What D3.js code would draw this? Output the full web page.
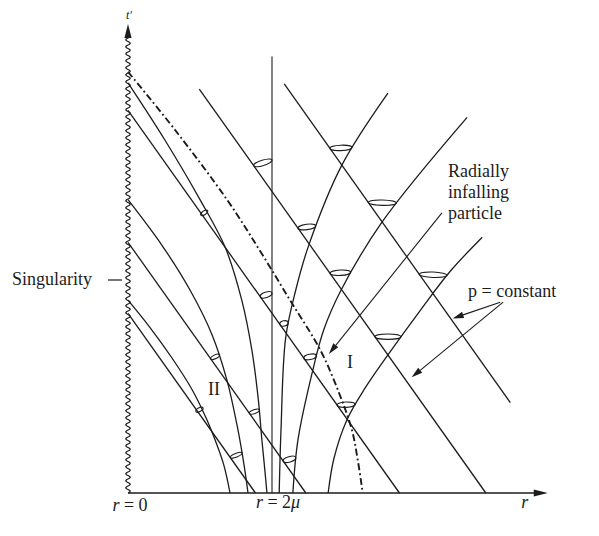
<!DOCTYPE html>
<html>
<head>
<meta charset="utf-8">
<script src="https://cdn.jsdelivr.net/npm/d3@7"></script>
<style>
  body { margin: 0; background: #fff; }
  svg { display: block; }
  text { font-family: 'Liberation Serif', 'DejaVu Serif', serif; fill: #1c1c1c; }
</style>
</head>
<body>
<div data-js-graph></div>
<script>
// r and t' in units of mu (r = 2 is the horizon)

// ingoing null lines (p = constant): t' + r = c
const ingoingC = [1.77, 2.47, 3.77, 4.97, 6.2];
const ingoingRStart = [0, 0, 0, 0.99, 2.17];
const ingoingREnd = [1.77, 2.47, 3.77, 4.97, 5.31];

// outgoing rays, [r, t']
const rayII1 = [[0, 4.04], [0.51, 3.48], [1.0, 2.89], [1.35, 2.42], [1.58, 1.90], [1.72, 1.41], [1.81, 0.92], [1.86, 0.52], [1.90, 0.23], [1.93, 0]];
const rayII2 = [[0, 2.89], [0.472, 2.44], [0.861, 2.0], [1.167, 1.56], [1.375, 1.11], [1.514, 0.67], [1.611, 0.28], [1.667, 0]];
const rayII3 = [[0, 1.90], [0.306, 1.63], [0.611, 1.33], [0.889, 1.02], [1.097, 0.72], [1.222, 0.50], [1.333, 0.27], [1.417, 0]];
const rayI1 = [[2.10, 0], [2.125, 0.62], [2.19, 1.53], [2.33, 2.0], [2.51, 2.44], [2.97, 3.23], [3.61, 3.94]];
const rayI2 = [[2.29, 0], [2.36, 0.52], [2.56, 1.19], [2.72, 1.61], [2.96, 2.0], [3.53, 2.67], [4.71, 3.70]];
const rayI3 = [[2.78, 0], [2.86, 0.34], [3.04, 0.72], [3.29, 1.03], [3.60, 1.35], [4.06, 1.80], [4.47, 2.18], [4.92, 2.52]];
const horizon = [[2, 0], [2, 4.30]];

// radially infalling particle
const particle = [[0, 4.15], [0.65, 3.58], [1.375, 2.89], [1.83, 2.39], [2.25, 1.90], [2.67, 1.41], [2.94, 0.97], [3.11, 0.62], [3.19, 0.33], [3.26, 0]];

// light cones: [ingoing line index, outgoing ray, t' of the rim]
const cones = [
  [3, 'H', 3.25], [4, 'I1', 3.40], [4, 'I2', 2.86], [3, 'I1', 2.62], [3, 'I2', 2.17],
  [4, 'I3', 2.15], [3, 'I3', 1.54], [2, 'H', 1.95], [2, 'I1', 1.67], [2, 'I2', 1.34],
  [2, 'I3', 0.87], [1, 'I2', 0.33],
  [2, 'II1', 2.76], [1, 'II2', 1.34], [0, 'II3', 0.82], [1, 'II1', 0.80], [0, 'II2', 0.37],
];

// annotation arrows [r1, t1, r2, t2]
const arrows = [[4.36, 2.76, 2.79, 1.37], [5.17, 1.88, 4.51, 1.72], [5.21, 1.88, 3.94, 1.14]];

const SETTING = {
  width: 599,
  height: 536,
  ink: '#1c1c1c',
  rAxisEnd: 5.83,
  tAxisEnd: 4.62,
};

const svg = d3.select('[data-js-graph]').append('svg')
  .attr('width', SETTING.width)
  .attr('height', SETTING.height);

const x = d3.scaleLinear().domain([0, 6]).range([128, 560]);
const y = d3.scaleLinear().domain([0, 4.7]).range([493, 493 - 4.7 * 101.5]);

const line = d3.line()
  .x((d) => x(d[0]))
  .y((d) => y(d[1]))
  .curve(d3.curveCatmullRom.alpha(0.5));

const ink = SETTING.ink;

// horizontal axis
svg.append('line')
  .attr('x1', x(0)).attr('y1', y(0))
  .attr('x2', x(SETTING.rAxisEnd) - 8).attr('y2', y(0))
  .attr('stroke', ink).attr('stroke-width', 1.4);
svg.append('path')
  .attr('d', `M${x(SETTING.rAxisEnd)},${y(0)} l-14,-3.6 l0,7.2 z`)
  .attr('fill', ink);

// wavy singularity at r = 0
const wave = d3.range(y(0), y(SETTING.tAxisEnd) + 13, -0.5)
  .map((py) => [x(0) + 2.2 * Math.sin(((y(0) - py) / 7) * 2 * Math.PI), py]);
svg.append('path')
  .attr('d', d3.line()(wave))
  .attr('fill', 'none').attr('stroke', ink).attr('stroke-width', 1.2);
svg.append('path')
  .attr('d', `M${x(0)},${y(SETTING.tAxisEnd)} l-3.6,14 l7.2,0 z`)
  .attr('fill', ink);

// ingoing lines
svg.append('g')
  .selectAll('line')
  .data(ingoingC)
  .join('line')
  .attr('x1', (c, i) => x(ingoingRStart[i]))
  .attr('y1', (c, i) => y(c - ingoingRStart[i]))
  .attr('x2', (c, i) => x(ingoingREnd[i]))
  .attr('y2', (c, i) => y(c - ingoingREnd[i]))
  .attr('stroke', ink).attr('stroke-width', 1.3);

// outgoing rays
const rays = { II1: rayII1, II2: rayII2, II3: rayII3, I1: rayI1, I2: rayI2, I3: rayI3, H: horizon };
const samples = {};
Object.keys(rays).forEach((key) => {
  const path = svg.append('path')
    .attr('d', line(rays[key]))
    .attr('fill', 'none')
    .attr('stroke', ink)
    .attr('stroke-width', key === 'H' ? 1.1 : 1.3);
  const node = path.node();
  const len = node.getTotalLength();
  samples[key] = d3.range(0, len, 0.5).concat([len]).map((l) => node.getPointAtLength(l));
});

// particle
svg.append('path')
  .attr('d', line(particle))
  .attr('fill', 'none')
  .attr('stroke', ink)
  .attr('stroke-width', 1.9)
  .attr('stroke-dasharray', '7,3,1.8,3');

// light cones
const norm = (v) => { const l = Math.hypot(v[0], v[1]); return [v[0] / l, v[1] / l]; };
const cross = (a, b) => a[0] * b[1] - a[1] * b[0];
const hit = (m, d, a, u) => {
  const s = cross([a[0] - m[0], a[1] - m[1]], u) / cross(d, u);
  return [m[0] + s * d[0], m[1] + s * d[1]];
};

function rayAt(pts, py) {
  for (let i = 0; i < pts.length - 1; i += 1) {
    const a = pts[i];
    const b = pts[i + 1];
    if ((a.y - py) * (b.y - py) <= 0 && a.y !== b.y) {
      const f = (py - a.y) / (b.y - a.y);
      const p = pts[Math.max(0, i - 4)];
      const q = pts[Math.min(pts.length - 1, i + 5)];
      const up = p.y < q.y ? [p.x - q.x, p.y - q.y] : [q.x - p.x, q.y - p.y];
      return { pt: [a.x + f * (b.x - a.x), py], dir: norm(up) };
    }
  }
  return null;
}

const coneG = svg.append('g');
cones.forEach(([li, key, t]) => {
  const c = ingoingC[li];
  const A = [x(c - t), y(t)];
  const u1 = norm([x(c - t - 1) - x(c - t), y(t + 1) - y(t)]);
  const hitRay = rayAt(samples[key], y(t));
  if (!hitRay) return;
  const u2 = hitRay.dir;
  const M = [(A[0] + hitRay.pt[0]) / 2, A[1]];
  const b = [u1[0] + u2[0], u1[1] + u2[1]];
  const th = Math.atan2(b[1], b[0]) + Math.PI / 2;
  const d = [Math.cos(th), Math.sin(th)];
  const p1 = hit(M, d, A, u1);
  const p2 = hit(M, d, hitRay.pt, u2);
  const rx = Math.hypot(p2[0] - p1[0], p2[1] - p1[1]) / 2;
  const ang = (Math.atan2(p2[1] - p1[1], p2[0] - p1[0]) * 180) / Math.PI;
  const a = ang > 90 ? ang - 180 : (ang < -90 ? ang + 180 : ang);
  coneG.append('ellipse')
    .attr('transform', `translate(${(p1[0] + p2[0]) / 2},${(p1[1] + p2[1]) / 2}) rotate(${a})`)
    .attr('rx', Math.max(rx, 4))
    .attr('ry', key.startsWith('II') ? 1.9 : 2.7)
    .attr('fill', 'none')
    .attr('stroke', ink)
    .attr('stroke-width', 1.1);
});

// annotation arrows
arrows.forEach(([r1, t1, r2, t2]) => {
  const x1 = x(r1); const y1 = y(t1); const x2 = x(r2); const y2 = y(t2);
  const u = norm([x2 - x1, y2 - y1]);
  const bx = x2 - u[0] * 11; const by = y2 - u[1] * 11;
  svg.append('line')
    .attr('x1', x1).attr('y1', y1).attr('x2', bx).attr('y2', by)
    .attr('stroke', ink).attr('stroke-width', 1.1);
  svg.append('path')
    .attr('d', `M${x2},${y2} L${bx - u[1] * 3.2},${by + u[0] * 3.2} L${bx + u[1] * 3.2},${by - u[0] * 3.2} Z`)
    .attr('fill', ink);
});

// texts
const txt = (px, py, size, anchor) => svg.append('text')
  .attr('x', px).attr('y', py)
  .attr('font-size', size)
  .attr('text-anchor', anchor);

txt(x(0) + 1, y(SETTING.tAxisEnd) - 5, 12, 'middle').attr('font-style', 'italic').text('t′');

txt(12, 285, 18, 'start').text('Singularity');
svg.append('line')
  .attr('x1', 108).attr('y1', 280).attr('x2', 122).attr('y2', 280)
  .attr('stroke', ink).attr('stroke-width', 1.2);

const r0 = txt(x(0) + 2, y(0) + 18, 18, 'middle');
r0.append('tspan').attr('font-style', 'italic').text('r');
r0.append('tspan').text(' = 0');

const r2 = txt(x(2) + 6, y(0) + 15, 18, 'middle');
r2.append('tspan').attr('font-style', 'italic').text('r');
r2.append('tspan').text(' = 2');
r2.append('tspan').attr('font-style', 'italic').text('μ');

txt(x(5.51), y(0) + 15, 18, 'middle').attr('font-style', 'italic').text('r');

const rad = txt(448, 177, 18, 'start');
['Radially', 'infalling', 'particle'].forEach((s, i) => {
  rad.append('tspan').attr('x', 448).attr('dy', i === 0 ? 0 : 21).text(s);
});

txt(468, 297, 18, 'start').text('p = constant');
txt(350, 368, 18, 'middle').text('I');
txt(214, 395, 18, 'middle').text('II');
</script>
</body>
</html>
